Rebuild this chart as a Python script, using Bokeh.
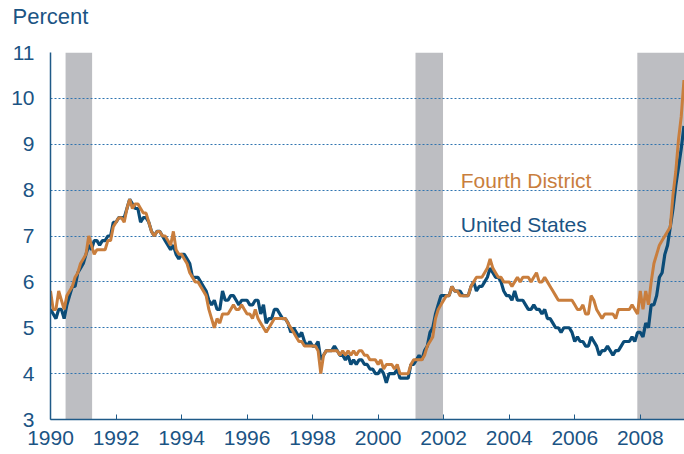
from bokeh.plotting import figure
from bokeh.models import Range1d, FixedTicker, Label, LinearAxis
from bokeh.embed import file_html
from bokeh.resources import INLINE

# Monthly unemployment rates, Jan 1990 - May 2009 (percent)
us_rate = [
    5.4, 5.3, 5.2, 5.4, 5.4, 5.2, 5.5, 5.7, 5.9, 5.9, 6.2, 6.3,  # 1990
    6.4, 6.6, 6.8, 6.7, 6.9, 6.9, 6.8, 6.9, 6.9, 7.0, 7.0, 7.3,  # 1991
    7.3, 7.4, 7.4, 7.4, 7.6, 7.8, 7.7, 7.6, 7.6, 7.3, 7.4, 7.4,  # 1992
    7.3, 7.1, 7.0, 7.1, 7.1, 7.0, 6.9, 6.8, 6.7, 6.8, 6.6, 6.5,  # 1993
    6.6, 6.6, 6.5, 6.4, 6.1, 6.1, 6.1, 6.0, 5.9, 5.8, 5.6, 5.5,  # 1994
    5.6, 5.4, 5.4, 5.8, 5.6, 5.6, 5.7, 5.7, 5.6, 5.5, 5.6, 5.6,  # 1995
    5.6, 5.5, 5.5, 5.6, 5.6, 5.3, 5.5, 5.1, 5.2, 5.2, 5.4, 5.4,  # 1996
    5.3, 5.2, 5.2, 5.1, 4.9, 5.0, 4.9, 4.8, 4.9, 4.7, 4.6, 4.7,  # 1997
    4.6, 4.6, 4.7, 4.3, 4.4, 4.5, 4.5, 4.5, 4.6, 4.5, 4.4, 4.4,  # 1998
    4.3, 4.4, 4.2, 4.3, 4.2, 4.3, 4.3, 4.2, 4.2, 4.1, 4.1, 4.0,  # 1999
    4.0, 4.1, 4.0, 3.8, 4.0, 4.0, 4.0, 4.1, 3.9, 3.9, 3.9, 3.9,  # 2000
    4.2, 4.2, 4.3, 4.4, 4.3, 4.5, 4.6, 4.9, 5.0, 5.3, 5.5, 5.7,  # 2001
    5.7, 5.7, 5.7, 5.9, 5.8, 5.8, 5.8, 5.7, 5.7, 5.7, 5.9, 6.0,  # 2002
    5.8, 5.9, 5.9, 6.0, 6.1, 6.3, 6.2, 6.1, 6.1, 6.0, 5.8, 5.7,  # 2003
    5.7, 5.6, 5.8, 5.6, 5.6, 5.6, 5.5, 5.4, 5.4, 5.5, 5.4, 5.4,  # 2004
    5.3, 5.4, 5.2, 5.2, 5.1, 5.0, 5.0, 4.9, 5.0, 5.0, 5.0, 4.9,  # 2005
    4.7, 4.8, 4.7, 4.7, 4.6, 4.6, 4.8, 4.7, 4.6, 4.4, 4.5, 4.5,  # 2006
    4.6, 4.5, 4.4, 4.5, 4.5, 4.6, 4.7, 4.7, 4.7, 4.8, 4.7, 4.9,  # 2007
    4.9, 4.8, 5.1, 5.0, 5.5, 5.5, 5.7, 6.1, 6.2, 6.6, 6.8, 7.2,  # 2008
    7.6, 8.1, 8.5, 8.9, 9.4,                                     # 2009
]

fourth_rate = [
    5.8, 5.4, 5.4, 5.8, 5.6, 5.4, 5.7, 5.8, 5.9, 6.1, 6.2, 6.4,  # 1990
    6.5, 6.6, 7.0, 6.8, 6.6, 6.7, 6.7, 6.7, 6.7, 6.9, 6.9, 7.2,  # 1991
    7.3, 7.4, 7.4, 7.3, 7.6, 7.8, 7.6, 7.7, 7.7, 7.6, 7.5, 7.5,  # 1992
    7.3, 7.1, 7.0, 7.1, 7.1, 7.0, 7.0, 6.9, 6.8, 7.1, 6.7, 6.6,  # 1993
    6.6, 6.5, 6.4, 6.2, 6.1, 6.0, 6.0, 5.9, 5.8, 5.7, 5.4, 5.2,  # 1994
    5.0, 5.2, 5.1, 5.3, 5.3, 5.3, 5.4, 5.5, 5.4, 5.4, 5.5, 5.4,  # 1995
    5.3, 5.3, 5.2, 5.4, 5.2, 5.1, 5.0, 4.9, 5.0, 5.1, 5.2, 5.2,  # 1996
    5.2, 5.2, 5.2, 5.1, 5.0, 4.9, 4.8, 4.7, 4.7, 4.6, 4.6, 4.6,  # 1997
    4.6, 4.6, 4.5, 4.0, 4.4, 4.5, 4.5, 4.5, 4.5, 4.5, 4.4, 4.5,  # 1998
    4.4, 4.5, 4.4, 4.5, 4.4, 4.5, 4.5, 4.4, 4.4, 4.3, 4.3, 4.3,  # 1999
    4.2, 4.3, 4.1, 4.2, 4.2, 4.2, 4.1, 4.2, 4.0, 4.0, 4.0, 4.0,  # 2000
    4.2, 4.3, 4.3, 4.3, 4.3, 4.4, 4.6, 4.7, 4.8, 5.2, 5.4, 5.5,  # 2001
    5.6, 5.7, 5.7, 5.9, 5.8, 5.8, 5.7, 5.7, 5.7, 5.7, 5.9, 6.0,  # 2002
    6.1, 6.1, 6.1, 6.2, 6.3, 6.5, 6.3, 6.2, 6.1, 6.1, 6.0, 6.0,  # 2003
    6.0, 5.9, 6.0, 6.1, 6.0, 6.1, 6.1, 6.1, 6.0, 6.1, 6.2, 6.0,  # 2004
    6.0, 6.1, 6.0, 5.9, 5.8, 5.7, 5.6, 5.6, 5.6, 5.6, 5.6, 5.6,  # 2005
    5.5, 5.4, 5.4, 5.5, 5.3, 5.3, 5.7, 5.6, 5.4, 5.3, 5.2, 5.3,  # 2006
    5.3, 5.3, 5.3, 5.2, 5.4, 5.4, 5.4, 5.4, 5.4, 5.5, 5.4, 5.3,  # 2007
    5.8, 5.4, 5.8, 5.5, 6.0, 6.4, 6.6, 6.8, 6.9, 7.0, 7.1, 7.2,  # 2008
    7.9, 8.4, 9.1, 9.6, 10.4,                                    # 2009
]

start_year = 1990
months = [start_year + i / 12 for i in range(len(us_rate))]

# Recessions (shaded)
rec_start = [1990.46, 2001.14, 2007.91]
rec_end = [1991.27, 2001.98, 2009.40]

x_ticks = [1990, 1992, 1994, 1996, 1998, 2000, 2002, 2004, 2006, 2008]
y_ticks = [3, 4, 5, 6, 7, 8, 9, 10, 11]
y_min, y_max = 3, 11
unit_label = "Percent"

BLUE = "#0B4C78"
ORANGE = "#C97E3D"
TEXT_BLUE = "#1B5484"
FONT = "Liberation Sans"

p = figure(width=684, height=454, output_backend="svg", toolbar_location=None,
           x_range=Range1d(1990, 2009.35), y_range=Range1d(y_min, y_max),
           min_border_left=50, min_border_right=0, min_border_top=51,
           min_border_bottom=35)
p.outline_line_color = None
p.background_fill_color = "white"
p.border_fill_color = "white"

p.quad(left=rec_start, right=rec_end, bottom=y_min, top=y_max,
       fill_color="#BDBEC2", line_color=None, level="image")

p.line(months, us_rate, line_color=BLUE, line_width=3.2)
p.line(months, fourth_rate, line_color=ORANGE, line_width=3)

p.xgrid.visible = False
p.ygrid.grid_line_color = "#2F74B0"
p.ygrid.grid_line_dash = "2 2"
p.ygrid.grid_line_width = 1
p.ygrid.grid_line_alpha = 1.0

p.xaxis.ticker = FixedTicker(ticks=x_ticks)
p.yaxis.ticker = FixedTicker(ticks=y_ticks)
for ax in (p.xaxis, p.yaxis):
    ax.axis_line_color = "#1F5A88"
    ax.axis_line_width = 1.5
    ax.major_tick_line_color = "#1F5A88"
    ax.major_tick_line_width = 1
    ax.minor_tick_line_color = None
    ax.major_label_text_color = TEXT_BLUE
    ax.major_label_text_font = FONT
    ax.major_label_text_font_size = "21px"
p.xaxis.major_tick_in = 5
p.xaxis.major_tick_out = 0
p.xaxis.major_label_standoff = 11
p.yaxis.major_tick_in = 0
p.yaxis.major_tick_out = 0
p.yaxis.major_label_standoff = 16

# Unit label above the value axis (an axis of its own, on the top side)
unit_axis = LinearAxis(ticker=FixedTicker(ticks=[start_year]),
                       major_label_overrides={start_year: unit_label},
                       axis_line_color=None, major_tick_line_color=None,
                       minor_tick_line_color=None, major_tick_in=0,
                       major_tick_out=0, major_label_standoff=24,
                       major_label_text_color=TEXT_BLUE,
                       major_label_text_font=FONT,
                       major_label_text_font_size="22px")
p.add_layout(unit_axis, "above")

p.add_layout(Label(x=2002.52, y=8.2, text="Fourth District", text_color=ORANGE,
                   text_font=FONT, text_font_size="21px",
                   text_baseline="alphabetic"))
p.add_layout(Label(x=2002.52, y=7.26, text="United States", text_color=TEXT_BLUE,
                   text_font=FONT, text_font_size="21px",
                   text_baseline="alphabetic"))

open("out.html", "w").write(file_html(p, INLINE))
